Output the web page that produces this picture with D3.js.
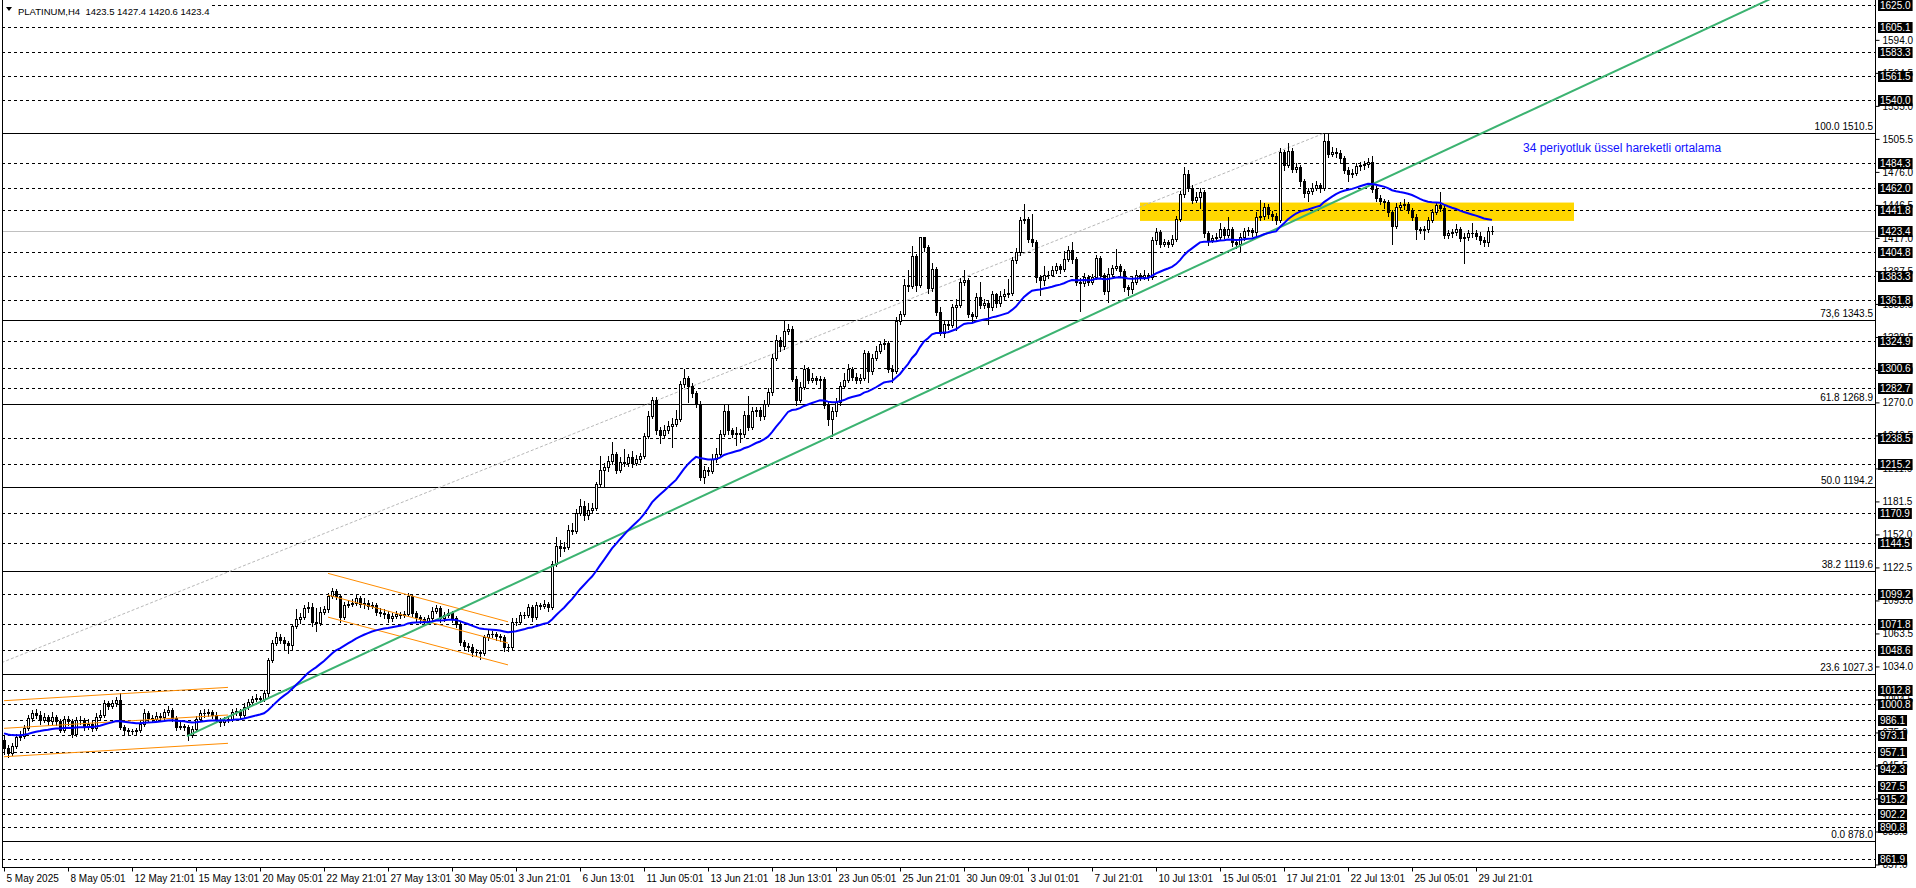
<!DOCTYPE html>
<html><head><meta charset="utf-8">
<script src="https://cdnjs.cloudflare.com/ajax/libs/d3/7.8.5/d3.min.js"></script>
<style>
body{margin:0;background:#fff;overflow:hidden}
svg{display:block}
text{font-family:"Liberation Sans",Arial,sans-serif}
</style>
</head><body>
<svg id="c" width="1916" height="888"></svg>
<script>
// ---------- DATA ----------
const firstOpen = 968;
const closes = [961,957,963,971,972,979,988,992,991,986,
989,985,989,985,977,987,985,974,986,986,
980,983,979,989,991,1001,999,1001,1004,980,
977,976,976,977,983,992,988,987,990,989,
993,995,988,980,981,980,973,978,987,992,
992,993,991,986,984,986,987,993,994,991,
998,1002,1005,1006,1005,1010,1040,1055,1060,1058,
1055,1053,1070,1076,1078,1086,1087,1074,1073,1083,
1085,1097,1101,1097,1078,1089,1090,1091,1095,1090,
1091,1088,1089,1083,1082,1081,1077,1079,1081,1080,
1081,1097,1082,1078,1076,1075,1077,1084,1086,1077,
1080,1082,1077,1072,1056,1052,1051,1047,1047,1046,
1060,1063,1063,1061,1060,1051,1051,1074,1074,1080,
1080,1087,1078,1089,1088,1090,1087,1126,1142,1140,
1141,1156,1155,1171,1177,1169,1174,1176,1197,1210,
1212,1218,1224,1210,1217,1216,1221,1216,1219,1222,
1240,1258,1272,1245,1241,1245,1249,1251,1255,1286,
1292,1285,1278,1269,1203,1210,1209,1219,1224,1242,
1262,1245,1242,1243,1242,1259,1248,1262,1263,1258,
1269,1279,1310,1326,1320,1334,1336,1291,1272,1284,
1300,1290,1292,1290,1291,1268,1255,1262,1270,1285,
1290,1300,1293,1290,1292,1314,1298,1310,1316,1322,
1323,1300,1298,1343,1349,1375,1374,1401,1375,1418,
1409,1372,1389,1351,1332,1340,1339,1355,1357,1378,
1379,1349,1347,1364,1357,1359,1355,1367,1359,1365,
1367,1368,1397,1404,1433,1434,1416,1413,1382,1379,
1384,1384,1388,1392,1389,1398,1406,1398,1378,1377,
1382,1378,1382,1399,1384,1370,1385,1390,1392,1387,
1373,1371,1378,1384,1382,1384,1382,1415,1422,1412,
1413,1412,1416,1434,1456,1474,1462,1451,1454,1458,
1421,1415,1417,1418,1425,1420,1425,1413,1412,1418,
1423,1424,1422,1436,1437,1445,1438,1437,1433,1494,
1482,1495,1479,1480,1468,1457,1459,1462,1464,1462,
1504,1492,1494,1493,1488,1478,1474,1475,1481,1482,
1483,1485,1461,1453,1450,1449,1440,1428,1445,1446,
1447,1442,1436,1425,1424,1425,1433,1440,1446,1444,
1420,1421,1422,1425,1417,1418,1421,1421,1419,1415,
1413,1423.5,1423.4];
const highs = [972,964,966,974,976,982,991,995,996,994,
992,991,993,991,987,990,990,987,989,990,
988,987,985,992,995,1004,1003,1004,1007,1010,
982,979,978,979,986,996,994,991,993,992,
996,999,997,990,984,983,982,981,990,995,
996,996,995,993,988,989,990,996,997,996,
1001,1005,1008,1009,1008,1013,1042,1058,1065,1063,
1060,1057,1072,1085,1082,1089,1092,1091,1086,1087,
1088,1100,1104,1103,1099,1092,1093,1094,1099,1097,
1095,1093,1092,1091,1086,1085,1084,1082,1084,1083,
1084,1100,1099,1084,1080,1078,1080,1087,1089,1088,
1083,1085,1084,1079,1074,1058,1055,1054,1050,1049,
1062,1067,1066,1065,1063,1062,1054,1077,1077,1083,
1083,1090,1089,1092,1091,1093,1092,1128,1150,1147,
1145,1160,1162,1175,1184,1182,1180,1180,1199,1222,
1216,1222,1235,1226,1221,1228,1224,1227,1223,1225,
1243,1262,1275,1275,1248,1250,1253,1256,1263,1289,
1300,1294,1287,1280,1271,1213,1212,1224,1229,1245,
1268,1269,1247,1248,1246,1262,1276,1266,1266,1266,
1272,1283,1313,1330,1328,1343,1340,1338,1294,1288,
1303,1302,1296,1294,1294,1293,1270,1266,1274,1288,
1296,1304,1302,1296,1295,1317,1316,1313,1320,1325,
1327,1325,1303,1346,1352,1380,1388,1410,1403,1418,
1418,1411,1395,1391,1355,1344,1343,1358,1362,1381,
1388,1381,1351,1368,1378,1362,1361,1370,1368,1370,
1371,1380,1400,1408,1436,1447,1436,1438,1415,1384,
1392,1387,1392,1395,1394,1405,1410,1413,1400,1381,
1386,1384,1385,1402,1401,1386,1390,1393,1407,1394,
1389,1375,1382,1388,1386,1388,1386,1418,1426,1424,
1416,1415,1420,1437,1459,1480,1478,1464,1458,1462,
1460,1423,1420,1421,1430,1427,1436,1427,1415,1421,
1426,1427,1426,1440,1451,1448,1447,1441,1439,1497,
1496,1502,1497,1484,1482,1470,1462,1466,1468,1466,
1510.5,1510,1498,1497,1496,1490,1480,1479,1484,1485,
1486,1488,1490,1463,1455,1452,1451,1442,1448,1449,
1452,1449,1444,1438,1427,1428,1436,1443,1449,1458,
1446,1424,1425,1429,1427,1421,1424,1430,1424,1422,
1418,1427,1427.4];
const lows = [956,953,955,961,968,970,977,985,988,983,
984,982,983,982,975,975,982,971,972,983,
977,978,976,977,987,989,996,997,999,978,
973,973,974,974,975,981,985,984,985,986,
987,991,985,977,978,977,968,971,976,985,
989,990,988,984,981,982,984,985,991,988,
989,996,1000,1003,1002,1003,1008,1038,1053,1055,
1050,1046,1049,1068,1073,1076,1083,1070,1066,1071,
1081,1083,1095,1094,1074,1076,1087,1088,1089,1087,
1086,1085,1086,1080,1079,1077,1074,1075,1077,1077,
1078,1079,1079,1075,1073,1072,1073,1075,1082,1074,
1075,1078,1074,1069,1053,1049,1048,1043,1044,1041,
1044,1058,1060,1058,1057,1048,1048,1049,1071,1072,
1077,1078,1075,1076,1085,1086,1084,1085,1124,1133,
1137,1139,1152,1153,1169,1165,1166,1171,1174,1195,
1195,1209,1215,1207,1208,1213,1213,1212,1214,1217,
1220,1238,1256,1242,1234,1238,1243,1230,1249,1253,
1284,1270,1275,1266,1201,1198,1205,1207,1217,1222,
1240,1242,1239,1232,1235,1239,1245,1246,1258,1254,
1255,1267,1277,1308,1316,1318,1331,1289,1268,1270,
1282,1287,1288,1286,1283,1265,1250,1240,1258,1268,
1283,1288,1290,1287,1287,1290,1288,1295,1308,1314,
1318,1297,1288,1296,1340,1347,1370,1372,1370,1373,
1405,1368,1370,1348,1330,1328,1336,1337,1335,1355,
1375,1346,1343,1345,1354,1354,1340,1353,1355,1356,
1362,1364,1366,1395,1402,1430,1413,1410,1378,1366,
1375,1381,1383,1386,1386,1387,1396,1395,1375,1352,
1374,1375,1376,1380,1381,1367,1360,1383,1388,1384,
1370,1366,1368,1376,1379,1380,1379,1380,1412,1409,
1410,1409,1410,1414,1432,1454,1459,1448,1449,1444,
1418,1411,1413,1414,1415,1417,1418,1410,1408,1405,
1415,1420,1419,1418,1433,1434,1435,1433,1429,1431,
1478,1480,1476,1476,1463,1454,1450,1456,1460,1458,
1460,1489,1490,1489,1485,1475,1468,1471,1473,1478,
1479,1480,1458,1450,1447,1444,1437,1412,1426,1442,
1443,1439,1433,1416,1421,1416,1422,1431,1438,1441,
1417,1417,1418,1420,1414,1395,1415,1418,1416,1412,
1410,1410,1420.6];

const timeLabels = ["5 May 2025","8 May 05:01","12 May 21:01","15 May 13:01","20 May 05:01","22 May 21:01",
"27 May 13:01","30 May 05:01","3 Jun 21:01","6 Jun 13:01","11 Jun 05:01","13 Jun 21:01","18 Jun 13:01",
"23 Jun 05:01","25 Jun 21:01","30 Jun 09:01","3 Jul 01:01","7 Jul 21:01","10 Jul 13:01","15 Jul 05:01",
"17 Jul 21:01","22 Jul 13:01","25 Jul 05:01","29 Jul 21:01"];
const barsPerTimeLabel = 16;

const priceTicks = [1594.0,1564.5,1535.0,1505.5,1476.0,1446.5,1417.0,1387.5,1358.0,1328.5,1299.0,1270.0,
1240.5,1211.0,1181.5,1152.0,1122.5,1093.0,1063.5,1034.0,1004.5,975.0,945.5,916.0,886.5,857.0];

const levelLines = [1625.0,1605.1,1583.3,1561.5,1540.0,1484.3,1462.0,1441.8,1404.8,1383.3,1361.8,1324.9,
1300.6,1282.7,1238.5,1215.2,1170.9,1144.5,1099.2,1071.8,1048.6,1012.8,1000.8,986.1,973.1,957.1,942.3,
927.5,915.2,902.2,890.8,861.9];
const currentPrice = 1423.4;

const fibNames  = ["100.0","73,6","61.8","50.0","38.2","23.6","0.0"];
const fibPrices = [1510.5,1343.5,1268.9,1194.2,1119.6,1027.3,878.0];
const fibAnchorBars = [-112, 330];
const fibAnchorPrices = [878.0, 1510.5];

const trendBars = [45.75, 285.5];
const trendPrices = [971.8, 1370.8];

const channel1Bars = [0, 56];
const channel1 = [[1003.4,1015.3],[978.7,990.6],[953.3,965.3]];
const channel2Bars = [81, 126];
const channel2 = [[1117.2,1073.9],[1097.8,1054.9],[1078.1,1035.4]];

const zoneBars = [284, 392.5];
const zonePrices = [1448.6, 1432.2];

const emaPeriod = 34;
const emaSeed = 975;

const titleText = "PLATINUM,H4  1423.5 1427.4 1420.6 1423.4";
const emaText = "34 periyotluk üssel hareketli ortalama";

// ---------- CHART ----------
const W = 1916, H = 888, L = 2, R = 1875, T = 0, B = 867;
const n = closes.length;
const x = d3.scaleLinear().domain([0, n - 1]).range([4, 4 + 4 * (n - 1)]);
const y = d3.scaleLinear().domain([878.0, 1510.5]).range([841, 133.3]);
const py = v => Math.round(y(v)) + 0.5;

const svg = d3.select("#c");
svg.append("rect").attr("width", W).attr("height", H).attr("fill", "#fff");
svg.append("defs").append("clipPath").attr("id", "plot")
  .append("rect").attr("x", L).attr("y", T).attr("width", R - L).attr("height", B - T);
const g = svg.append("g").attr("clip-path", "url(#plot)");

// yellow zone
g.append("rect")
  .attr("x", x(zoneBars[0])).attr("width", x(zoneBars[1]) - x(zoneBars[0]))
  .attr("y", y(zonePrices[0])).attr("height", y(zonePrices[1]) - y(zonePrices[0]))
  .attr("fill", "#FFD700");

// dashed level lines
g.selectAll("line.lvl").data(levelLines).join("line").attr("class", "lvl")
  .attr("x1", L).attr("x2", R).attr("y1", py).attr("y2", py)
  .attr("stroke", "#000").attr("stroke-width", 1).attr("stroke-dasharray", "3,3")
  .attr("shape-rendering", "crispEdges");

// current price line
g.append("line").attr("x1", L).attr("x2", R).attr("y1", py(currentPrice)).attr("y2", py(currentPrice))
  .attr("stroke", "#c0c0c0").attr("shape-rendering", "crispEdges");

// fib lines
g.selectAll("line.fib").data(fibPrices).join("line").attr("class", "fib")
  .attr("x1", L).attr("x2", R).attr("y1", py).attr("y2", py)
  .attr("stroke", "#000").attr("shape-rendering", "crispEdges");

// fib diagonal
g.append("line")
  .attr("x1", x(fibAnchorBars[0])).attr("y1", y(fibAnchorPrices[0]))
  .attr("x2", x(fibAnchorBars[1])).attr("y2", y(fibAnchorPrices[1]))
  .attr("stroke", "#b8b8b8").attr("stroke-dasharray", "3,2");

// candles
const cg = g.append("g");
closes.forEach((c, i) => {
  const o = i === 0 ? firstOpen : closes[i - 1];
  const xi = Math.round(x(i));
  const yh = Math.round(y(highs[i])), yl = Math.round(y(lows[i]));
  cg.append("rect").attr("x", xi).attr("y", yh).attr("width", 1).attr("height", Math.max(1, yl - yh + 1)).attr("fill", "#000");
  const top = Math.round(y(Math.max(o, c))), bot = Math.round(y(Math.min(o, c)));
  const h = Math.max(1, bot - top + 1);
  cg.append("rect").attr("x", xi - 1).attr("y", top).attr("width", 3).attr("height", h).attr("fill", "#000");
  if (c > o && h >= 3) {
    cg.append("rect").attr("x", xi).attr("y", top + 1).attr("width", 1).attr("height", h - 2).attr("fill", "#fff");
  }
});

// orange channels
function channel(bars, lines) {
  lines.forEach(p => {
    g.append("line").attr("x1", x(bars[0])).attr("y1", y(p[0])).attr("x2", x(bars[1])).attr("y2", y(p[1]))
      .attr("stroke", "#FF8C00").attr("stroke-width", 1);
  });
}
channel(channel1Bars, channel1);
channel(channel2Bars, channel2);

// green trendline (extended to the right)
const slope = (trendPrices[1] - trendPrices[0]) / (trendBars[1] - trendBars[0]);
const endBar = 460;
g.append("line")
  .attr("x1", x(trendBars[0])).attr("y1", y(trendPrices[0]))
  .attr("x2", x(endBar)).attr("y2", y(trendPrices[0] + slope * (endBar - trendBars[0])))
  .attr("stroke", "#3CB371").attr("stroke-width", 2);

// EMA 34
const k = 2 / (emaPeriod + 1);
let prev = emaSeed;
const ema = closes.map(c => (prev = prev + k * (c - prev)));
g.append("path").datum(ema)
  .attr("d", d3.line().x((d, i) => x(i)).y(d => y(d)))
  .attr("fill", "none").attr("stroke", "#0000FF").attr("stroke-width", 2);

// fib labels
svg.selectAll("text.fibl").data(fibPrices).join("text").attr("class", "fibl")
  .attr("x", 1873).attr("y", d => Math.round(y(d)) - 3)
  .attr("text-anchor", "end").attr("font-size", 10).attr("fill", "#000")
  .text((d, i) => fibNames[i] + " " + d3.format(".1f")(d));

// EMA annotation
svg.append("text").attr("x", 1523).attr("y", 152).attr("font-size", 12).attr("fill", "#1010ff").text(emaText);

// frame
svg.append("line").attr("x1", 2.5).attr("x2", 2.5).attr("y1", 0).attr("y2", B).attr("stroke", "#000");
svg.append("line").attr("x1", R + 0.5).attr("x2", R + 0.5).attr("y1", 0).attr("y2", B + 1).attr("stroke", "#000");
svg.append("line").attr("x1", 2).attr("x2", R + 1).attr("y1", B + 0.5).attr("y2", B + 0.5).attr("stroke", "#000");

// right price axis
const ya = svg.append("g").attr("transform", `translate(${R + 0.5},0)`)
  .call(d3.axisRight(y).tickValues(priceTicks).tickSize(4).tickPadding(3).tickFormat(d3.format(".1f")));
ya.select(".domain").remove();
ya.selectAll("text").attr("font-family", "Liberation Sans, Arial, sans-serif").attr("font-size", 10).attr("fill", "#000");
ya.selectAll("line").attr("stroke", "#000");

// highlighted labels
const boxVals = levelLines.concat([currentPrice]);
const bg = svg.append("g");
boxVals.forEach(v => {
  const cy = Math.round(y(v));
  const t = bg.append("text").attr("x", R + 5).attr("y", cy + 4).attr("font-size", 10).attr("fill", "#fff").text(d3.format(".1f")(v));
  const w = t.node().getComputedTextLength();
  bg.insert("rect", "text").attr("x", R + 3).attr("y", cy - 5).attr("width", w + 4).attr("height", 11).attr("fill", "#000");
});

// bottom time axis
const tickBars = timeLabels.map((d, i) => i * barsPerTimeLabel);
const xa = svg.append("g").attr("transform", `translate(0,${B + 0.5})`)
  .call(d3.axisBottom(x).tickValues(tickBars).tickSize(4).tickPadding(3).tickFormat((d, i) => timeLabels[i]));
xa.select(".domain").remove();
xa.selectAll("text").attr("text-anchor", "start").attr("dx", 2)
  .attr("font-family", "Liberation Sans, Arial, sans-serif").attr("font-size", 10).attr("fill", "#000");
xa.selectAll("line").attr("stroke", "#000");

// title
svg.append("rect").attr("x", 3).attr("y", 0).attr("width", 206).attr("height", 19).attr("fill", "#fff");
svg.append("path").attr("d", "M6,7 L12,7 L9,11 Z").attr("fill", "#000");
svg.append("text").attr("x", 18).attr("y", 15).attr("font-size", 9.5).attr("fill", "#000")
  .style("white-space", "pre").text(titleText);
</script>
</body></html>
